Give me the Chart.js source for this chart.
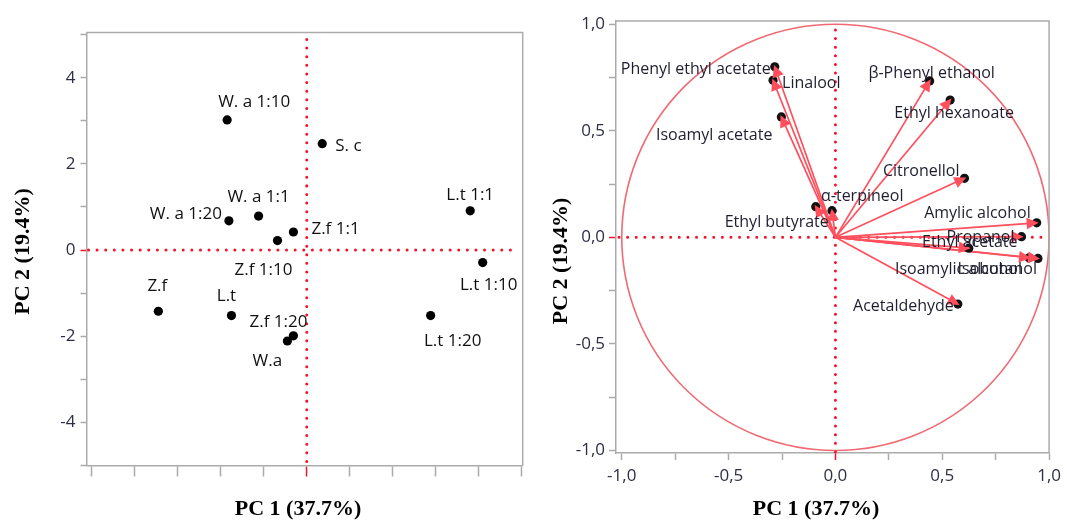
<!DOCTYPE html>
<html>
<head>
<meta charset="utf-8">
<script src="https://cdn.jsdelivr.net/npm/chart.js@4.4.1/dist/chart.umd.min.js"></script>
<style>
  html, body { margin: 0; padding: 0; background: #ffffff; }
  #wrap { position: relative; width: 1067px; height: 523px; overflow: hidden; }
  #scoreChart { position: absolute; left: 0; top: 0; }
  #loadChart { position: absolute; left: 540px; top: 0; }
</style>
</head>
<body>
<div id="wrap">
  <canvas id="scoreChart" width="540" height="523"></canvas>
  <canvas id="loadChart" width="527" height="523"></canvas>
</div>
<script>
// ================= DATA: score plot =================
const sampleNames = ["W. a 1:10", "S. c", "L.t 1:1", "W. a 1:20", "W. a 1:1", "Z.f 1:1", "Z.f 1:10",
                     "L.t 1:10", "Z.f", "L.t", "Z.f 1:20", "W.a", "L.t 1:20"];
const scorePC1 = [-1.85, 0.36, 3.80, -1.81, -1.12, -0.31, -0.68, 4.09, -3.45, -1.75, -0.31, -0.45, 2.88];
const scorePC2 = [3.02, 2.47, 0.91, 0.68, 0.79, 0.42, 0.22, -0.29, -1.42, -1.52, -1.99, -2.11, -1.52];
const scoreTicks = [-5, -4, -3, -2, -1, 0, 1, 2, 3, 4, 5];
const scoreLabelValuesY = [-4, -2, 0, 2, 4];
const scoreTickLabelsY = ["-4", "-2", "0", "2", "4"];

// ================= DATA: loading plot =================
const compoundNames = ["Phenyl ethyl acetate", "Linalool", "Isoamyl acetate", "β-Phenyl ethanol", "Ethyl hexanoate",
                       "Citronellol", "α-terpineol", "Ethyl butyrate", "Amylic alcohol", "Propanol",
                       "Ethyl acetate", "Isoamylic alcohol", "Isobutanol", "Acetaldehyde"];
const loadPC1 = [-0.284, -0.292, -0.253, 0.441, 0.537, 0.604, -0.016, -0.092, 0.942, 0.871, 0.624, 0.906, 0.948, 0.573];
const loadPC2 = [0.800, 0.737, 0.565, 0.734, 0.644, 0.277, 0.125, 0.144, 0.068, 0.003, -0.051, -0.096, -0.099, -0.313];
const loadTicks = [-1, -0.75, -0.5, -0.25, 0, 0.25, 0.5, 0.75, 1];
const loadLabelValues = [-1, -0.5, 0, 0.5, 1];
const loadTickLabels = ["-1,0", "-0,5", "0,0", "0,5", "1,0"];
const circleRadius = 1;

const titlePC1 = "PC 1 (37.7%)";
const titlePC2 = "PC 2 (19.4%)";

// ================= STYLE =================
const dotRed = "#f2142a";
const arrowRed = "#ff4f5c";
const circleRed = "#f06a74";
const frameGray = "#ababab";
const tickText = "#2e2e46";
const labelFont = "'Open Sans', sans-serif";
const titleFont = "bold 22px 'Liberation Serif', 'Times New Roman', serif";

// label placement next to each mark: [dx, dy, align]
const scoreLabelPos = {
  "W. a 1:10": [27, -18, "center"], "S. c": [13, 2, "left"], "L.t 1:1": [0, -16, "center"],
  "W. a 1:20": [-7, -7, "right"], "W. a 1:1": [0, -19, "center"], "Z.f 1:1": [18, -3, "left"],
  "Z.f 1:10": [-14, 30, "center"], "L.t 1:10": [6, 23, "center"], "Z.f": [-1, -25, "center"],
  "L.t": [-5, -19, "center"], "Z.f 1:20": [-15, -14, "center"], "W.a": [-20, 20, "center"],
  "L.t 1:20": [22, 26, "center"]
};
const loadLabelPos = {
  "Phenyl ethyl acetate": [-4, 3, "right"], "Linalool": [9, 3, "left"], "Isoamyl acetate": [-9, 19, "right"],
  "β-Phenyl ethanol": [2, -7, "center"], "Ethyl hexanoate": [4, 13, "center"], "Citronellol": [-5, -7, "right"],
  "α-terpineol": [-11, -14, "left"], "Ethyl butyrate": [13, 16, "right"], "Amylic alcohol": [-6, -9, "right"],
  "Propanol": [-7, 1, "right"], "Ethyl acetate": [1, -6, "center"], "Isoamylic alcohol": [-134, 12, "left"],
  "Isobutanol": [-1, 11, "right"], "Acetaldehyde": [-4, 2, "right"]
};

// ================= HELPERS =================
function zeroTickColor(ctx) {
  return ctx.tick && ctx.tick.value === 0 ? dotRed : frameGray;
}

function axis(ticks, labelValues, labels, tickLen, pad, fixedSize, horizontal, min, max) {
  return {
    type: "linear",
    min: min,
    max: max,
    bounds: "data",
    afterBuildTicks: s => { s.ticks = ticks.map(v => ({ value: v })); },
    afterFit: s => { if (horizontal) s.height = fixedSize; else s.width = fixedSize; },
    ticks: {
      autoSkip: false,
      maxRotation: 0,
      padding: pad,
      color: tickText,
      font: { family: labelFont, size: 17 },
      callback: v => {
        const i = labelValues.indexOf(v);
        return i >= 0 ? labels[i] : "";
      }
    },
    grid: {
      drawOnChartArea: false,
      drawTicks: true,
      tickLength: tickLen,
      tickWidth: 1.5,
      tickColor: zeroTickColor
    },
    border: { display: true, color: frameGray, width: 1.5 },
    title: { display: false }
  };
}

function dotted(ctx, x1, y1, x2, y2) {
  ctx.save();
  ctx.strokeStyle = dotRed;
  ctx.lineWidth = 3;
  ctx.lineCap = "round";
  ctx.setLineDash([0.01, 8.6]);
  ctx.beginPath();
  ctx.moveTo(x1, y1);
  ctx.lineTo(x2, y2);
  ctx.stroke();
  ctx.restore();
}

function drawTitles(ctx, xPos, yPos) {
  ctx.save();
  ctx.fillStyle = "#000";
  ctx.font = titleFont;
  ctx.textAlign = "center";
  ctx.textBaseline = "middle";
  ctx.fillText(titlePC1, xPos[0], xPos[1]);
  ctx.translate(yPos[0], yPos[1]);
  ctx.rotate(-Math.PI / 2);
  ctx.fillText(titlePC2, 0, 0);
  ctx.restore();
}

function drawFrame(chart) {
  const a = chart.chartArea, ctx = chart.ctx;
  ctx.save();
  ctx.strokeStyle = frameGray;
  ctx.lineWidth = 1.5;
  ctx.beginPath();
  ctx.moveTo(a.left, a.top);
  ctx.lineTo(a.right, a.top);
  ctx.lineTo(a.right, a.bottom);
  ctx.stroke();
  ctx.restore();
}

function drawLabels(chart, datasetIndex, names, pos, size, color) {
  const ctx = chart.ctx;
  const meta = chart.getDatasetMeta(datasetIndex);
  ctx.save();
  ctx.font = size + "px " + labelFont;
  ctx.fillStyle = color;
  ctx.textBaseline = "middle";
  names.forEach((n, i) => {
    const el = meta.data[i];
    const p = pos[n] || [8, 0, "left"];
    ctx.textAlign = p[2];
    ctx.fillText(n, el.x + p[0], el.y + p[1]);
  });
  ctx.restore();
}

// ================= SCORE PLOT =================
const scorePlugin = {
  id: "scoreDecor",
  beforeDatasetsDraw(chart) {
    const a = chart.chartArea, x = chart.scales.x, y = chart.scales.y;
    const x0 = x.getPixelForValue(0), y0 = y.getPixelForValue(0);
    dotted(chart.ctx, x0, a.top + 7, x0, a.bottom);
    dotted(chart.ctx, a.left + 2, y0, a.right - 4, y0);
  },
  afterDatasetsDraw(chart) {
    drawLabels(chart, 0, sampleNames, scoreLabelPos, 17, "#111111");
  },
  afterDraw(chart) {
    drawFrame(chart);
    drawTitles(chart.ctx, [298, 509], [23.5, 251.5]);
  }
};

new Chart(document.getElementById("scoreChart"), {
  type: "scatter",
  data: {
    datasets: [{
      data: sampleNames.map((n, i) => ({ x: scorePC1[i], y: scorePC2[i] })),
      pointRadius: 4.6,
      pointBackgroundColor: "#000",
      pointBorderWidth: 0
    }]
  },
  options: {
    responsive: false,
    animation: false,
    events: [],
    layout: { padding: { left: 0, right: 17.3, top: 32.5, bottom: 0 } },
    plugins: { legend: { display: false }, tooltip: { enabled: false } },
    scales: {
      x: axis(scoreTicks, [], [], 11, 4, 57.5, true, -5.12, 5.02),
      y: axis(scoreTicks, scoreLabelValuesY, scoreTickLabelsY, 6, 5, 86.5, false, -5.0, 5.05)
    }
  },
  plugins: [scorePlugin]
});

// ================= LOADING PLOT =================
const loadPlugin = {
  id: "loadDecor",
  beforeDatasetsDraw(chart) {
    const a = chart.chartArea, x = chart.scales.x, y = chart.scales.y, ctx = chart.ctx;
    const x0 = x.getPixelForValue(0), y0 = y.getPixelForValue(0);
    ctx.save();
    ctx.strokeStyle = circleRed;
    ctx.lineWidth = 1.6;
    ctx.beginPath();
    ctx.ellipse(x0, y0, x.getPixelForValue(circleRadius) - x0, y0 - y.getPixelForValue(circleRadius), 0, 0, Math.PI * 2);
    ctx.stroke();
    ctx.restore();
    dotted(ctx, x0, a.top + 9, x0, a.bottom);
    dotted(ctx, a.left + 3, y0, a.right - 2, y0);
  },
  afterDatasetsDraw(chart) {
    const ctx = chart.ctx, x = chart.scales.x, y = chart.scales.y;
    const x0 = x.getPixelForValue(0), y0 = y.getPixelForValue(0);
    const meta = chart.getDatasetMeta(0);
    ctx.save();
    ctx.fillStyle = arrowRed;
    meta.data.forEach(el => {
      const ang = Math.atan2(el.y - y0, el.x - x0);
      const len = 12, half = 5.8;
      const tx = el.x + Math.cos(ang) * 2, ty = el.y + Math.sin(ang) * 2;
      const bx = tx - Math.cos(ang) * len, by = ty - Math.sin(ang) * len;
      ctx.beginPath();
      ctx.moveTo(tx, ty);
      ctx.lineTo(bx - Math.sin(ang) * half, by + Math.cos(ang) * half);
      ctx.lineTo(bx + Math.sin(ang) * half, by - Math.cos(ang) * half);
      ctx.closePath();
      ctx.fill();
    });
    ctx.restore();
    drawLabels(chart, 0, compoundNames, loadLabelPos, 16, "#1e1e30");
  },
  afterDraw(chart) {
    drawFrame(chart);
    drawTitles(chart.ctx, [276, 509], [21.7, 261]);
  }
};

const arrowSets = compoundNames.map((n, i) => ({
  label: n,
  data: [{ x: 0, y: 0 }, { x: loadPC1[i], y: loadPC2[i] }],
  showLine: true,
  borderColor: arrowRed,
  borderWidth: 1.7,
  pointRadius: 0,
  order: 1
}));

new Chart(document.getElementById("loadChart"), {
  type: "scatter",
  data: {
    datasets: [{
      label: "loadings",
      data: compoundNames.map((n, i) => ({ x: loadPC1[i], y: loadPC2[i] })),
      pointRadius: 4.6,
      pointBackgroundColor: "#111",
      pointBorderWidth: 0,
      order: 0
    }].concat(arrowSets)
  },
  options: {
    responsive: false,
    animation: false,
    events: [],
    layout: { padding: { left: 0, right: 15.3, top: 21, bottom: 0 } },
    plugins: { legend: { display: false }, tooltip: { enabled: false } },
    scales: {
      x: axis(loadTicks, loadLabelValues, loadTickLabels, 7, 6, 70, true, -1.027, 1.0),
      y: axis(loadTicks, loadLabelValues, loadTickLabels, 7, 4, 76, false, -1.012, 1.015)
    }
  },
  plugins: [loadPlugin]
});
</script>
</body>
</html>
